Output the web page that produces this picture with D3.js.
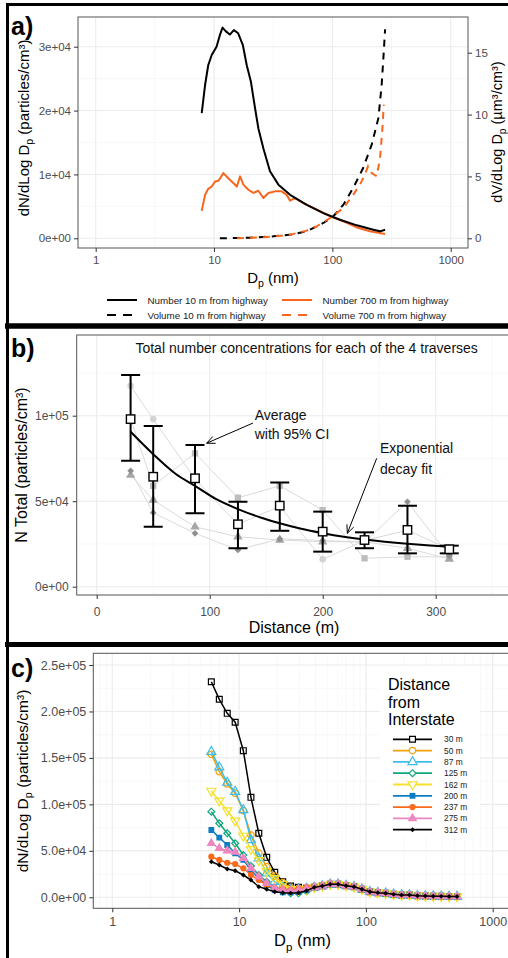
<!DOCTYPE html>
<html><head><meta charset="utf-8">
<script src="https://cdn.jsdelivr.net/npm/d3@7"></script>
<style>body{margin:0;background:#fff;} svg{display:block;}</style>
</head><body><svg id="c" width="508" height="958"></svg>
<script>
// ================= DATA =================
// Panel a) size distributions
const aNum10Dp = [7.87, 8.4, 8.93, 9.56, 10.5, 11.2, 11.8, 12.6, 13.6, 14.7, 16.0, 17.5, 18.9, 20.5, 22.2, 23.7, 26.1, 29.7, 35, 43.9, 60.8, 84, 116, 161, 222, 253, 279];
const aNum10 = [19600, 24000, 27100, 28700, 30000, 31800, 33000, 32400, 31900, 32600, 32100, 30300, 27100, 24500, 20400, 17200, 14100, 10500, 8400, 6800, 5250, 3950, 2900, 2030, 1350, 1090, 1350];
const aNum700Dp = [7.87, 8.4, 8.93, 9.56, 10.2, 10.9, 12.0, 13.2, 14.1, 15.6, 16.6, 17.7, 19.5, 21.5, 23.7, 26.1, 28.8, 32.8, 37.3, 41.1, 43.9, 48.4, 56.9, 73.8, 95.7, 124, 161, 208, 279];
const aNum700 = [4300, 6800, 7750, 8100, 8900, 9000, 10200, 9400, 8900, 8100, 9700, 8400, 7600, 7100, 7450, 6300, 7100, 7350, 7350, 6800, 5900, 6300, 5500, 4500, 3450, 2650, 1700, 1100, 670];
const aVol10Dp = [11.2, 20, 31.7, 45, 60.8, 84, 102, 124, 150, 182, 215, 245, 261, 270, 279];
const aVol10 = [0, 0.05, 0.16, 0.3, 0.57, 1.24, 1.78, 2.72, 4.07, 5.68, 7.57, 9.73, 12.4, 14.6, 16.9];
const aVol700Dp = [15.6, 30, 43.9, 60, 73.8, 95.7, 124, 150, 171, 188, 200, 215, 237, 253, 265, 272];
const aVol700 = [0, 0.12, 0.29, 0.6, 0.97, 1.64, 2.45, 3.52, 4.33, 5.14, 5.82, 5.28, 5.01, 6.49, 8.92, 10.8];
const aXTicks = [1, 10, 100, 1000];
const aXTickLabels = ["1", "10", "100", "1000"];
const aYTicks = [0, 10000, 20000, 30000];
const aYTickLabels = ["0e+00", "1e+04", "2e+04", "3e+04"];
const aY2Ticks = [0, 5, 10, 15];
const aY2TickLabels = ["0", "5", "10", "15"];
const aLegend = ["Number 10 m from highway", "Volume 10 m from highway", "Number 700 m from highway", "Volume 700 m from highway"];

// Panel b) total number vs distance
const bDist = [30, 50, 87, 125, 162, 200, 237, 275, 312];
const bAvg = [98000, 64300, 63400, 36500, 47400, 32200, 27300, 33200, 21900];
const bLo  = [73700, 35000, 42900, 22500, 32700, 20500, 22500, 19500, 19500];
const bHi  = [123800, 94000, 82900, 49700, 61000, 43900, 31800, 47400, 24000];
const bTravCircle   = [117500, 98000, 63000, 36500, 47000, 16000, 27000, 33000, 22000];
const bTravSquare   = [98000, 59000, 78000, 52000, 59000, 44800, 16600, 17500, 17500];
const bTravTriangle = [65300, 50700, 35000, 29200, 27300, 26300, 26300, 22500, 16200];
const bTravDiamond  = [67800, 43300, 31200, 21500, 28000, 27000, 26000, 49700, 18000];
const bFitDist = [30, 50, 70, 87, 105, 125, 145, 162, 180, 200, 220, 237, 255, 275, 295, 312];
const bFitN = [90600, 77500, 65900, 59000, 51500, 45400, 40500, 37100, 34000, 31300, 29100, 27600, 26300, 25100, 24100, 23400];
const bXTicks = [0, 100, 200, 300];
const bXTickLabels = ["0", "100", "200", "300"];
const bYTicks = [0, 50000, 100000];
const bYTickLabels = ["0e+00", "5e+04", "1e+05"];

// Panel c) size distributions by distance
const cDp = [6.04, 6.98, 8.06, 9.31, 10.8, 12.4, 14.3, 16.5, 19.1, 22.1, 25.5, 29.4, 34.0, 39.2, 45.3, 52.3, 60.4, 69.8, 80.6, 93.1, 107.5, 124.1, 143.3, 165.5, 191.1, 220.7, 254.8, 294.3, 339.8, 392.4, 453.2, 523.3];
const cTail = [10700, 12200, 14000, 14000, 12500, 11400, 8600, 6000, 5000, 4300, 3200, 2500, 2500, 1700, 1400, 1200, 1000, 900, 800];
const c30  = [232000, 213100, 198000, 188400, 157800, 107600, 68900, 43000, 26900, 16800, 12200, 10700, 9700];
const c50  = [153900, 135200, 122000, 112000, 93200, 67000, 47400, 33000, 22900, 15700, 10300, 9500, 9700];
const c87  = [156700, 139900, 123400, 113700, 94000, 61700, 42000, 25800, 16800, 11400, 7900, 8500, 9500];
const c125 = [92100, 79600, 68900, 58100, 45500, 33700, 24000, 16800, 9700, 6000, 4300, 4300, 6500];
const c162 = [114500, 103800, 93400, 82300, 66100, 51800, 39800, 28000, 20400, 14300, 8600, 8000, 9000];
const c200 = [72400, 64200, 56300, 47400, 40200, 29400, 20400, 13200, 7900, 5400, 5400, 5500, 7500];
const c237 = [43700, 40200, 37200, 35800, 31200, 24000, 18600, 13200, 10300, 8900, 8000, 9000, 10700];
const c275 = [58100, 52700, 50200, 48800, 42000, 31200, 22200, 15100, 9700, 7900, 7000, 8000, 9500];
const c312 = [38300, 34800, 30500, 28600, 24000, 18600, 11400, 8600, 6000, 5000, 4500, 5000, 7000];
const cNames = ["30 m", "50 m", "87 m", "125 m", "162 m", "200 m", "237 m", "275 m", "312 m"];
const cHeads = [c30, c50, c87, c125, c162, c200, c237, c275, c312];
const cXTicks = [1, 10, 100, 1000];
const cXTickLabels = ["1", "10", "100", "1000"];
const cYTicks = [0, 50000, 100000, 150000, 200000, 250000];
const cYTickLabels = ["0.0e+00", "5.0e+04", "1.0e+05", "1.5e+05", "2.0e+05", "2.5e+05"];

// ================= STYLE / LAYOUT =================
const FONT = '"Liberation Sans", Arial, Helvetica, sans-serif';
const svg = d3.select("#c").style("font-family", FONT);
svg.append("rect").attr("width", 508).attr("height", 958).attr("fill", "#fff");
const GRID = "#ebebeb", GRIDMIN = "#f3f3f3", TXT = "#4d4d4d";

function clip(id, p) {
  svg.append("clipPath").attr("id", id).append("rect")
    .attr("x", p.l).attr("y", p.t).attr("width", p.r - p.l).attr("height", p.b - p.t);
  return "url(#" + id + ")";
}
function grid(p, xs, ys, xMaj, xMin, yMaj, yMin, cl) {
  const g = svg.append("g").attr("clip-path", cl);
  g.selectAll(null).data(xMin).join("line").attr("x1", d => xs(d)).attr("x2", d => xs(d))
    .attr("y1", p.t).attr("y2", p.b).attr("stroke", GRIDMIN).attr("stroke-width", 0.6);
  g.selectAll(null).data(yMin).join("line").attr("y1", d => ys(d)).attr("y2", d => ys(d))
    .attr("x1", p.l).attr("x2", p.r).attr("stroke", GRIDMIN).attr("stroke-width", 0.6);
  g.selectAll(null).data(xMaj).join("line").attr("x1", d => xs(d)).attr("x2", d => xs(d))
    .attr("y1", p.t).attr("y2", p.b).attr("stroke", GRID).attr("stroke-width", 1.1);
  g.selectAll(null).data(yMaj).join("line").attr("y1", d => ys(d)).attr("y2", d => ys(d))
    .attr("x1", p.l).attr("x2", p.r).attr("stroke", GRID).attr("stroke-width", 1.1);
}
function border(p) {
  svg.append("rect").attr("x", p.l).attr("y", p.t).attr("width", p.r - p.l).attr("height", p.b - p.t)
    .attr("fill", "none").attr("stroke", "#555").attr("stroke-width", 1);
}
function styleAxis(g, fs) {
  g.select(".domain").remove();
  g.selectAll(".tick line").attr("stroke", "#333").attr("stroke-width", 1);
  g.selectAll(".tick text").attr("fill", TXT).attr("font-size", fs).attr("font-family", FONT);
}
function dpText(t, pre, post, fs) {
  t.append("tspan").text(pre);
  t.append("tspan").attr("font-size", fs * 0.7).attr("dy", fs * 0.28).text("p");
  t.append("tspan").attr("dy", -fs * 0.28).text(post);
}
function panelLabel(txt, x, y) {
  svg.append("text").attr("x", x).attr("y", y).attr("font-size", 25).attr("font-weight", "bold")
    .attr("fill", "#000").text(txt);
}

// ================= PANEL A =================
const pA = {l: 78, r: 468, t: 17, b: 248};
const xA = d3.scaleLog().domain([1, 1000]).range([95.7, 450.7]);
const yA = d3.scaleLinear().domain([0, 30000]).range([238.3, 46.7]);
const yA2 = d3.scaleLinear().domain([0, 15]).range([238.3, 52.7]);
const clA = clip("clA", pA);
grid(pA, xA, yA, aXTicks, [Math.pow(10, 0.5), Math.pow(10, 1.5), Math.pow(10, 2.5)],
  aYTicks, [5000, 15000, 25000], clA);
const orange = "#F8661E";
const gA = svg.append("g").attr("clip-path", clA);
const lineA = (xv, yv, ys) => d3.line().x((d, i) => xA(xv[i])).y(d => ys(d))(yv);
gA.append("path").attr("d", lineA(aVol10Dp, aVol10, yA2)).attr("fill", "none").attr("stroke", "#000")
  .attr("stroke-width", 2).attr("stroke-dasharray", "7,6");
gA.append("path").attr("d", lineA(aVol700Dp, aVol700, yA2)).attr("fill", "none").attr("stroke", orange)
  .attr("stroke-width", 2).attr("stroke-dasharray", "7,6");
gA.append("path").attr("d", lineA(aNum700Dp, aNum700, yA)).attr("fill", "none").attr("stroke", orange)
  .attr("stroke-width", 2).attr("stroke-linejoin", "round");
gA.append("path").attr("d", lineA(aNum10Dp, aNum10, yA)).attr("fill", "none").attr("stroke", "#000")
  .attr("stroke-width", 2).attr("stroke-linejoin", "round");
border(pA);
styleAxis(svg.append("g").attr("transform", `translate(${pA.l},0)`)
  .call(d3.axisLeft(yA).tickValues(aYTicks).tickFormat((d, i) => aYTickLabels[i]).tickSize(4).tickPadding(3)), 11.5);
styleAxis(svg.append("g").attr("transform", `translate(${pA.r},0)`)
  .call(d3.axisRight(yA2).tickValues(aY2Ticks).tickFormat((d, i) => aY2TickLabels[i]).tickSize(4).tickPadding(3)), 11.5);
styleAxis(svg.append("g").attr("transform", `translate(0,${pA.b})`)
  .call(d3.axisBottom(xA).tickValues(aXTicks).tickFormat((d, i) => aXTickLabels[i]).tickSize(4).tickPadding(4)), 11.5);
dpText(svg.append("text").attr("x", 273).attr("y", 282.5).attr("text-anchor", "middle").attr("font-size", 15).attr("fill", "#000"), "D", " (nm)", 15);
dpText(svg.append("text").attr("transform", "translate(28.5,128) rotate(-90)").attr("text-anchor", "middle").attr("font-size", 15).attr("fill", "#000"), "dN/dLog D", " (particles/cm³)", 15);
dpText(svg.append("text").attr("transform", "translate(501.5,132) rotate(-90)").attr("text-anchor", "middle").attr("font-size", 14.5).attr("fill", "#000"), "dV/dLog D", " (µm³/cm³)", 14.5);
// legend
const legA = [
  {x: 107, y: 300, c: "#000", dash: null, t: aLegend[0]},
  {x: 107, y: 315, c: "#000", dash: "9,7", t: aLegend[1]},
  {x: 282, y: 300, c: orange, dash: null, t: aLegend[2]},
  {x: 282, y: 315, c: orange, dash: "9,7", t: aLegend[3]}
];
legA.forEach(L => {
  svg.append("line").attr("x1", L.x).attr("x2", L.x + 30).attr("y1", L.y).attr("y2", L.y)
    .attr("stroke", L.c).attr("stroke-width", 2).attr("stroke-dasharray", L.dash);
  svg.append("text").attr("x", L.x + 40.5).attr("y", L.y + 3.5).attr("font-size", 9.8).attr("fill", "#222").text(L.t);
});
panelLabel("a)", 11, 35);

// ================= PANEL B =================
const pB = {l: 76.7, r: 512, t: 335, b: 595};
const xB = d3.scaleLinear().domain([0, 300]).range([96.7, 435.7]);
const yB = d3.scaleLinear().domain([0, 100000]).range([586.7, 415.7]);
const clB = clip("clB", pB);
grid(pB, xB, yB, bXTicks, [50, 150, 250, 350], bYTicks, [25000, 75000, 125000], clB);
const gB = svg.append("g").attr("clip-path", clB);
const trav = [
  {v: bTravCircle, sym: d3.symbolCircle, size: 34, c: "#d3d3d3", rot: 0},
  {v: bTravSquare, sym: d3.symbolSquare, size: 40, c: "#bdbdbd", rot: 0},
  {v: bTravTriangle, sym: d3.symbolTriangle, size: 38, c: "#a6a6a6", rot: 0},
  {v: bTravDiamond, sym: d3.symbolSquare, size: 22, c: "#8f8f8f", rot: 45}
];
trav.forEach(T => {
  gB.append("path").attr("d", d3.line().x((d, i) => xB(bDist[i])).y(d => yB(d))(T.v))
    .attr("fill", "none").attr("stroke", "#d6d6d6").attr("stroke-width", 0.9);
});
trav.forEach(T => {
  gB.selectAll(null).data(T.v).join("path")
    .attr("d", d3.symbol().type(T.sym).size(T.size))
    .attr("transform", (d, i) => `translate(${xB(bDist[i])},${yB(d)}) rotate(${T.rot})`)
    .attr("fill", T.c);
});
gB.append("path").attr("d", d3.line().curve(d3.curveMonotoneX).x((d, i) => xB(bFitDist[i])).y(d => yB(d))(bFitN))
  .attr("fill", "none").attr("stroke", "#000").attr("stroke-width", 2);
const eb = gB.selectAll(null).data(bDist).join("g");
eb.append("line").attr("x1", d => xB(d)).attr("x2", d => xB(d)).attr("y1", (d, i) => yB(bLo[i])).attr("y2", (d, i) => yB(bHi[i]))
  .attr("stroke", "#000").attr("stroke-width", 2);
eb.append("line").attr("x1", d => xB(d) - 9.5).attr("x2", d => xB(d) + 9.5).attr("y1", (d, i) => yB(bLo[i])).attr("y2", (d, i) => yB(bLo[i]))
  .attr("stroke", "#000").attr("stroke-width", 2);
eb.append("line").attr("x1", d => xB(d) - 9.5).attr("x2", d => xB(d) + 9.5).attr("y1", (d, i) => yB(bHi[i])).attr("y2", (d, i) => yB(bHi[i]))
  .attr("stroke", "#000").attr("stroke-width", 2);
eb.append("rect").attr("x", d => xB(d) - 4.2).attr("y", (d, i) => yB(bAvg[i]) - 4.2).attr("width", 8.4).attr("height", 8.4)
  .attr("fill", "#fff").attr("stroke", "#000").attr("stroke-width", 1.4);
// annotations
function arrow(x1, y1, x2, y2) {
  const a = Math.atan2(y2 - y1, x2 - x1), L = 9, w = 0.42;
  svg.append("path").attr("d",
    `M${x1},${y1}L${x2},${y2}M${x2 - L * Math.cos(a - w)},${y2 - L * Math.sin(a - w)}L${x2},${y2}L${x2 - L * Math.cos(a + w)},${y2 - L * Math.sin(a + w)}`)
    .attr("fill", "none").attr("stroke", "#000").attr("stroke-width", 1);
}
arrow(xB(138.3), yB(95700), xB(97.3), yB(83900));
arrow(xB(247.8), yB(75100), xB(221.8), yB(31200));
const annB = (t, d, n, anchor) => svg.append("text").attr("x", xB(d)).attr("y", yB(n)).attr("dy", "0.35em")
  .attr("font-size", 14).attr("fill", "#111").attr("text-anchor", anchor || "start").text(t);
annB("Average", 139.8, 100400);
annB("with 95% CI", 139.8, 89000);
annB("Exponential", 250.7, 80900);
annB("decay fit", 250.7, 68800);
annB("Total number concentrations for each of the 4 traverses", 185.8, 139400, "middle");
border(pB);
styleAxis(svg.append("g").attr("transform", `translate(${pB.l},0)`)
  .call(d3.axisLeft(yB).tickValues(bYTicks).tickFormat((d, i) => bYTickLabels[i]).tickSize(4).tickPadding(4)), 12);
styleAxis(svg.append("g").attr("transform", `translate(0,${pB.b})`)
  .call(d3.axisBottom(xB).tickValues(bXTicks).tickFormat((d, i) => bXTickLabels[i]).tickSize(4).tickPadding(8)), 12);
svg.append("text").attr("x", 294).attr("y", 633).attr("text-anchor", "middle").attr("font-size", 16).attr("fill", "#000").text("Distance (m)");
svg.append("text").attr("transform", "translate(26.5,465) rotate(-90)").attr("text-anchor", "middle").attr("font-size", 16).attr("fill", "#000").text("N Total (particles/cm³)");
panelLabel("b)", 11, 357);

// ================= PANEL C =================
const pC = {l: 93.3, r: 512, t: 653.3, b: 908.3};
const xC = d3.scaleLog().domain([1, 1000]).range([112.3, 492.7]);
const yC = d3.scaleLinear().domain([0, 250000]).range([897.3, 665]);
const clC = clip("clC", pC);
const cMinorX = [];
[0.1, 1, 10, 100].forEach(dec => { for (let k = 2; k <= 9; k++) cMinorX.push(k * dec); });
grid(pC, xC, yC, cXTicks, cMinorX, cYTicks, [25000, 75000, 125000, 175000, 225000], clC);
const cStyle = [
  {c: "#000000", sym: d3.symbolSquare, size: 34, fill: false, rot: 0},
  {c: "#F2A104", sym: d3.symbolCircle, size: 34, fill: false, rot: 0},
  {c: "#3EBDEB", sym: d3.symbolTriangle, size: 36, fill: false, rot: 0},
  {c: "#0FA77A", sym: d3.symbolSquare, size: 24, fill: false, rot: 45},
  {c: "#F5E02A", sym: d3.symbolTriangle, size: 36, fill: false, rot: 180},
  {c: "#0E7CC0", sym: d3.symbolSquare, size: 34, fill: true, rot: 0},
  {c: "#FA6A1C", sym: d3.symbolCircle, size: 30, fill: true, rot: 0},
  {c: "#EE86BF", sym: d3.symbolTriangle, size: 40, fill: true, rot: 0},
  {c: "#000000", sym: d3.symbolSquare, size: 12, fill: true, rot: 45}
];
const gC = svg.append("g").attr("clip-path", clC);
cHeads.forEach((h, s) => {
  const vals = h.concat(cTail);
  const st = cStyle[s];
  gC.append("path").attr("d", d3.line().x((d, i) => xC(cDp[i])).y(d => yC(d))(vals))
    .attr("fill", "none").attr("stroke", st.c).attr("stroke-width", 1.5);
  gC.selectAll(null).data(vals).join("path")
    .attr("d", d3.symbol().type(st.sym).size(st.size))
    .attr("transform", (d, i) => `translate(${xC(cDp[i])},${yC(d)}) rotate(${st.rot})`)
    .attr("fill", st.fill ? st.c : "none").attr("stroke", st.c).attr("stroke-width", st.fill ? 0 : 1.2);
});
// legend
svg.append("rect").attr("x", 380).attr("y", 666).attr("width", 100).attr("height", 170).attr("fill", "#fff");
["Distance", "from", "Interstate"].forEach((t, i) => {
  svg.append("text").attr("x", 388).attr("y", 690 + i * 17.5).attr("font-size", 16).attr("fill", "#000").text(t);
});
cNames.forEach((n, s) => {
  const y = 739.3 + s * 11.3, st = cStyle[s];
  svg.append("line").attr("x1", 393).attr("x2", 432).attr("y1", y).attr("y2", y).attr("stroke", st.c).attr("stroke-width", 1.8);
  svg.append("path").attr("d", d3.symbol().type(st.sym).size(st.size))
    .attr("transform", `translate(412.5,${y}) rotate(${st.rot})`)
    .attr("fill", st.fill ? st.c : "#fff").attr("stroke", st.c).attr("stroke-width", st.fill ? 0 : 1.2);
  svg.append("text").attr("x", 444).attr("y", y + 3).attr("font-size", 8.4).attr("fill", "#222").text(n);
});
border(pC);
styleAxis(svg.append("g").attr("transform", `translate(${pC.l},0)`)
  .call(d3.axisLeft(yC).tickValues(cYTicks).tickFormat((d, i) => cYTickLabels[i]).tickSize(4).tickPadding(3)), 12.5);
styleAxis(svg.append("g").attr("transform", `translate(0,${pC.b})`)
  .call(d3.axisBottom(xC).tickValues(cXTicks).tickFormat((d, i) => cXTickLabels[i]).tickSize(4).tickPadding(5)), 12.5);
dpText(svg.append("text").attr("x", 302.5).attr("y", 946).attr("text-anchor", "middle").attr("font-size", 16.5).attr("fill", "#000"), "D", " (nm)", 16.5);
dpText(svg.append("text").attr("transform", "translate(28,781) rotate(-90)").attr("text-anchor", "middle").attr("font-size", 15.5).attr("fill", "#000"), "dN/dLog D", " (particles/cm³)", 15.5);
panelLabel("c)", 11, 677);

// ================= FRAMES =================
svg.append("path").attr("d", "M7.5,960V4.5H520").attr("fill", "none").attr("stroke", "#000").attr("stroke-width", 3);
svg.append("line").attr("x1", 5).attr("x2", 520).attr("y1", 326).attr("y2", 326).attr("stroke", "#000").attr("stroke-width", 5.5);
svg.append("line").attr("x1", 5).attr("x2", 520).attr("y1", 644.5).attr("y2", 644.5).attr("stroke", "#000").attr("stroke-width", 5);
</script></body></html>
